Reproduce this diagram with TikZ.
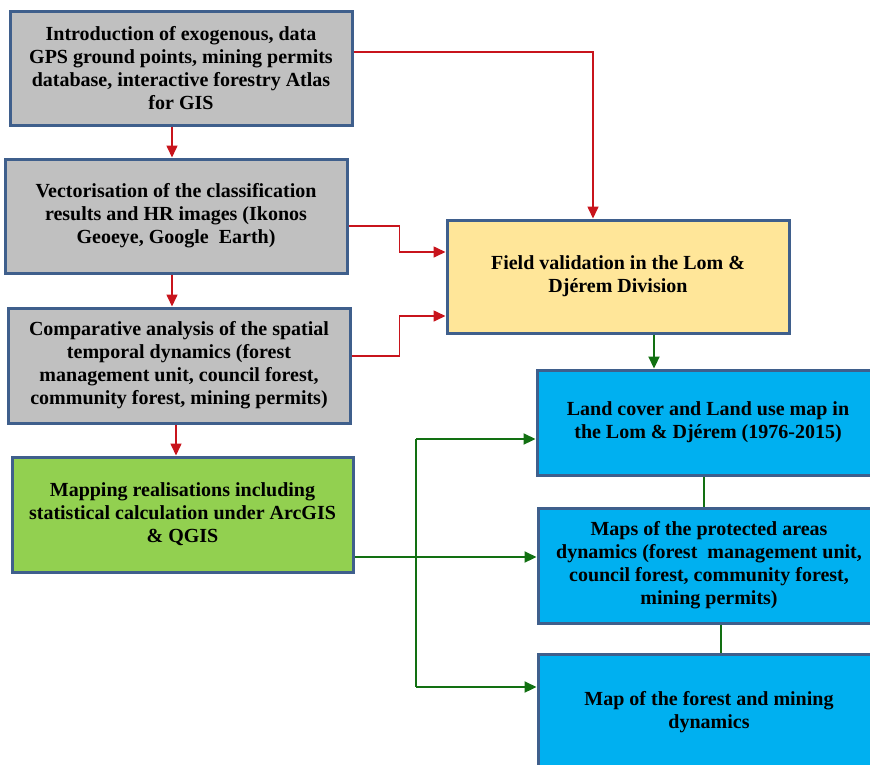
\documentclass[tikz,border=0pt]{standalone}
\usepackage{fontspec}
\setmainfont{Liberation Serif}
\usepackage{tikz}
\usetikzlibrary{shapes,arrows,arrows.meta,positioning}
\definecolor{boxedge}{RGB}{63,95,140}
\definecolor{greyfill}{RGB}{192,192,192}
\definecolor{yellowfill}{RGB}{255,230,153}
\definecolor{greenfill}{RGB}{146,208,80}
\definecolor{bluefill}{RGB}{0,176,240}
\definecolor{redline}{RGB}{200,20,28}
\definecolor{darkgreen}{RGB}{18,112,18}
\tikzstyle{greyblock}=[rectangle, draw=boxedge, fill=greyfill, line width=3pt, align=center, minimum width=342pt, minimum height=114pt, inner sep=0pt]
\tikzstyle{yellowblock}=[rectangle, draw=boxedge, fill=yellowfill, line width=3pt, align=center, minimum width=342pt, minimum height=113pt, inner sep=0pt]
\tikzstyle{greenblock}=[rectangle, draw=boxedge, fill=greenfill, line width=3pt, align=center, minimum width=341pt, minimum height=115pt, inner sep=0pt]
\tikzstyle{blueblock}=[rectangle, draw=boxedge, fill=bluefill, line width=3pt, align=center, minimum width=342pt, minimum height=115pt, inner sep=0pt]
\tikzstyle{redarrow}=[->, draw=redline, line width=1.6pt]
\tikzstyle{greenarrow}=[->, draw=darkgreen, line width=2.2pt]
\tikzstyle{greenlink}=[draw=darkgreen, line width=2.2pt]

\begin{document}
\begin{tikzpicture}[x=1pt, y=-1pt, every node/.style={font=\fontsize{20}{23}\selectfont\bfseries}, >={Triangle[length=12pt,width=11pt]}]

\useasboundingbox (0,0) rectangle (870,764);
\clip (0,0) rectangle (870,764);

\node[greyblock] (intro) at (181,68) {Introduction of exogenous, data\\GPS ground points, mining permits\\database, interactive forestry Atlas\\for GIS};
\node[greyblock] (vector) at (176,216) {Vectorisation of the classification\\results and HR images (Ikonos\\Geoeye, Google\ \ Earth)};
\node[greyblock, minimum height=115pt] (compare) at (179,365.5) {Comparative analysis of the spatial\\temporal dynamics (forest\\management unit, council forest,\\community forest, mining permits)};
\node[greenblock] (mapping) at (182.5,514.5) {Mapping realisations including\\statistical calculation under ArcGIS\\\& QGIS};
\node[yellowblock] (field) at (618,276.5) {Field validation in the Lom \&\\Dj\'erem Division};
\node[blueblock, minimum height=105pt] (landuse) at (708,422.5) {Land cover and Land use map in\\the Lom \& Dj\'erem (1976-2015)};
\node[blueblock] (protect) at (709,565.5) {Maps of the protected areas\\dynamics (forest\ \ management unit,\\council forest, community forest,\\mining permits)};
\node[blueblock, minimum height=116pt] (mining) at (709,712) {Map of the forest and mining\\dynamics};

\coordinate (spinetop) at (416,439);
\coordinate (spinebot) at (416,687);

\draw[redarrow] ([xshift=-9pt]intro.south) -- ([xshift=-4pt]vector.north);
\draw[redarrow] ([xshift=-4pt]vector.south) -- ([xshift=-7pt]compare.north);
\draw[redarrow] ([xshift=-3pt]compare.south) -- ([xshift=-6.5pt]mapping.north);
\draw[redarrow] ([yshift=16pt]intro.east) -| ([xshift=-25pt]field.north);
\draw[redarrow] ([yshift=-10pt]vector.east) -- ++(51,0) |- ([yshift=24.5pt]field.west);
\draw[redarrow] ([yshift=9.5pt]compare.east) -- ++(48,0) |- ([yshift=-39.5pt]field.west);

\draw[greenarrow] ([xshift=36pt]field.south) -- ([xshift=-54pt]landuse.north);
\draw[greenlink] ([xshift=-4pt]landuse.south) -- ([xshift=-5pt]protect.north);
\draw[greenlink] ([xshift=12pt]protect.south) -- ([xshift=12pt]mining.north);
\draw[greenarrow] ([yshift=-42.5pt]mapping.east) -- ([yshift=8.5pt]protect.west);
\draw[greenlink] (spinetop) -- (spinebot);
\draw[greenarrow] (spinetop) -- ([yshift=-16.5pt]landuse.west);
\draw[greenarrow] (spinebot) -- ([yshift=25pt]mining.west);

\end{tikzpicture}
\end{document}
